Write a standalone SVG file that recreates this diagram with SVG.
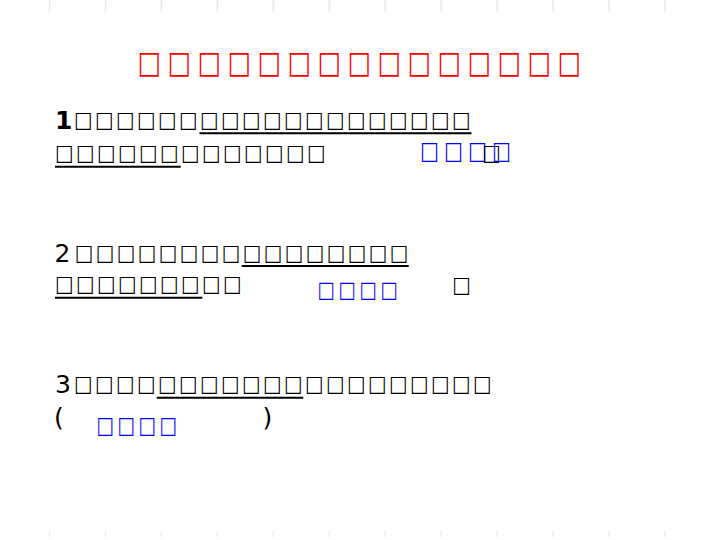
<svg xmlns="http://www.w3.org/2000/svg" width="720" height="540" viewBox="0 0 720 540">
<style>
.bx{font-family:"DejaVu Sans",sans-serif;font-size:22px;fill:#000}
.ti{font-family:"DejaVu Sans",sans-serif;font-size:31px;fill:#ff0000}
.bl{font-family:"DejaVu Sans",sans-serif;fill:#0000ff}
.dg{font-family:"DejaVu Sans",sans-serif;font-size:25px;fill:#000}
.ul{stroke:#000;stroke-width:2}
.tk{fill:#ebebeb}
</style>
<rect width="720" height="540" fill="#fff"/>
<g id="ticks">
<rect class="tk" x="48.7" y="0" width="1.7" height="12"/><rect class="tk" x="104.7" y="0" width="1.7" height="12"/><rect class="tk" x="160.6" y="0" width="1.7" height="12"/><rect class="tk" x="216.6" y="0" width="1.7" height="12"/><rect class="tk" x="272.5" y="0" width="1.7" height="12"/><rect class="tk" x="328.5" y="0" width="1.7" height="12"/><rect class="tk" x="384.4" y="0" width="1.7" height="12"/><rect class="tk" x="440.4" y="0" width="1.7" height="12"/><rect class="tk" x="496.4" y="0" width="1.7" height="12"/><rect class="tk" x="552.3" y="0" width="1.7" height="12"/><rect class="tk" x="608.3" y="0" width="1.7" height="12"/><rect class="tk" x="664.2" y="0" width="1.7" height="12"/>
<rect class="tk" x="48.7" y="531" width="1.7" height="6"/><rect class="tk" x="104.7" y="531" width="1.7" height="6"/><rect class="tk" x="160.6" y="531" width="1.7" height="6"/><rect class="tk" x="216.6" y="531" width="1.7" height="6"/><rect class="tk" x="272.5" y="531" width="1.7" height="6"/><rect class="tk" x="328.5" y="531" width="1.7" height="6"/><rect class="tk" x="384.4" y="531" width="1.7" height="6"/><rect class="tk" x="440.4" y="531" width="1.7" height="6"/><rect class="tk" x="496.4" y="531" width="1.7" height="6"/><rect class="tk" x="552.3" y="531" width="1.7" height="6"/><rect class="tk" x="608.3" y="531" width="1.7" height="6"/><rect class="tk" x="664.2" y="531" width="1.7" height="6"/>
</g>
<g id="title">
<text class="ti" transform="scale(0.796,1)" y="72.8" x="172.8 210.5 248.2 285.8 323.5 361.2 398.9 436.6 474.3 512.0 549.7 587.3 625.0 662.7 700.4">□□□□□□□□□□□□□□□</text>
</g>
<g id="q1">
<text class="dg" x="55" y="129.3" font-weight="bold">1</text>
<text class="bx" transform="scale(0.885,1)" y="127" x="83.7 107.4 131.1 154.9 178.6 202.3 226.1 249.8 273.5 297.2 321.0 344.7 368.4 392.2 415.9 439.6 463.4 487.1 510.8">□□□□□□□□□□□□□□□□□□□</text>
<text class="bx" transform="scale(0.885,1)" y="159.7" x="62.2 85.9 109.7 133.4 157.1 180.9 204.6 228.3 252.0 275.8 299.5 323.2 346.9">□□□□□□□□□□□□□</text>
<text class="bl" font-size="25" transform="scale(0.795,1)" y="159" x="528.7 558.9 589.1 619.3">□□□□</text>
<text class="bx" transform="scale(0.885,1)" y="160" x="544.9">□</text>
<line class="ul" x1="199.5" y1="133.3" x2="471.5" y2="133.3"/>
<line class="ul" x1="55" y1="166.7" x2="180.7" y2="166.7"/>
</g>
<g id="q2">
<text class="dg" x="54.5" y="261.7">2</text>
<text class="bx" transform="scale(0.885,1)" y="259.7" x="84.5 108.2 131.9 155.7 179.4 203.1 226.9 250.6 274.3 298.0 321.8 345.5 369.2 393.0 416.7 440.4">□□□□□□□□□□□□□□□□</text>
<text class="bx" transform="scale(0.885,1)" y="291.4" x="62.2 85.9 109.7 133.4 157.1 180.9 204.6 228.3 252.0">□□□□□□□□□</text>
<text class="bl" font-size="22" transform="scale(0.826,1)" y="296.7" x="384.4 409.8 435.2 460.6">□□□□</text>
<text class="bx" transform="scale(0.885,1)" y="292" x="511.1">□</text>
<line class="ul" x1="241.7" y1="266" x2="408.7" y2="266"/>
<line class="ul" x1="55" y1="297.7" x2="202.3" y2="297.7"/>
</g>
<g id="q3">
<text class="dg" x="55" y="393.3">3</text>
<text class="bx" transform="scale(0.885,1)" y="391.4" x="83.7 107.4 131.1 154.9 178.6 202.3 226.1 249.8 273.5 297.2 321.0 344.7 368.4 392.2 415.9 439.6 463.4 487.1 510.8 534.5">□□□□□□□□□□□□□□□□□□□□</text>
<text class="dg" x="54" y="426" font-size="26">(</text>
<text class="dg" x="262.5" y="426" font-size="26">)</text>
<text class="bl" font-size="23.4" transform="scale(0.794,1)" y="433.4" x="121.5 147.9 174.3 200.8">□□□□</text>
<line class="ul" x1="156.7" y1="397.7" x2="303.3" y2="397.7"/>
</g>
</svg>
